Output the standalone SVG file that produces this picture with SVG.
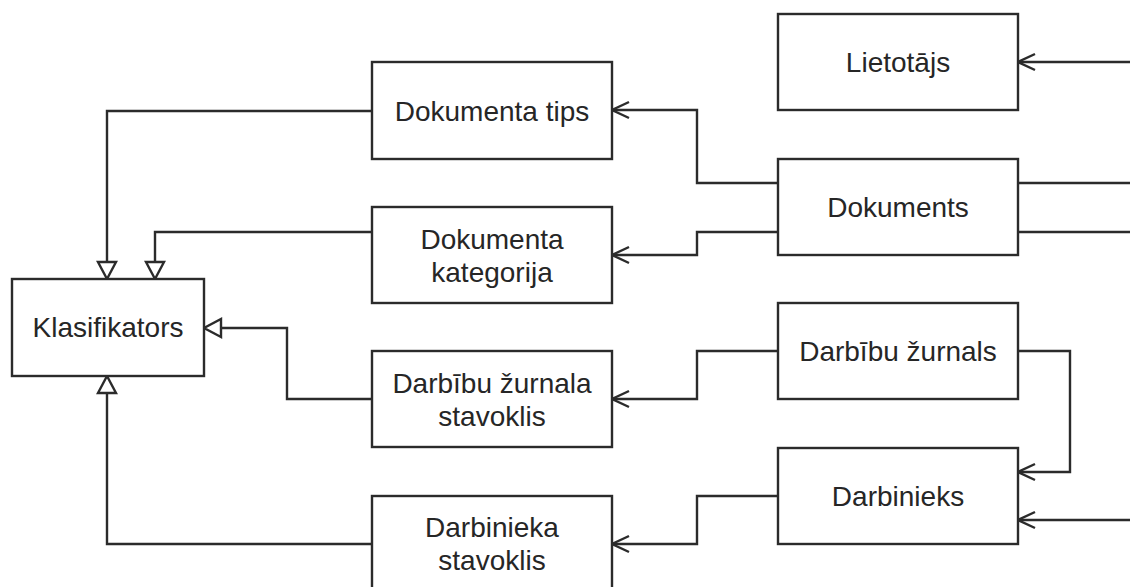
<svg xmlns="http://www.w3.org/2000/svg" width="1130" height="587" viewBox="0 0 1130 587">
<style>
.box{fill:#fff;stroke:#2b2b2b;stroke-width:2.4}
.lbl{font-family:"Liberation Sans",Arial,sans-serif;font-size:28px;fill:#262626;text-anchor:middle}
.c{fill:none;stroke:#2b2b2b;stroke-width:2.4}
</style>
<defs>
<marker id="open" viewBox="-20 -11 23 22" refX="0" refY="0" markerWidth="23" markerHeight="22" markerUnits="userSpaceOnUse" orient="auto">
<path d="M -17 -8 L 0 0 L -17 8" fill="none" stroke="#2b2b2b" stroke-width="2.4"/>
</marker>
<marker id="tri" viewBox="-20 -11 23 22" refX="0" refY="0" markerWidth="23" markerHeight="22" markerUnits="userSpaceOnUse" orient="auto">
<path d="M -17 -9 L 0 0 L -17 9 Z" fill="#fff" stroke="#2b2b2b" stroke-width="2.4"/>
</marker>
</defs>
<rect width="1130" height="587" fill="#fff"/>
<g id="connectors">
<path class="c" d="M778 183 H697 V110 H612" marker-end="url(#open)"/>
<path class="c" d="M778 232 H697 V255 H612" marker-end="url(#open)"/>
<path class="c" d="M778 351 H697 V399 H612" marker-end="url(#open)"/>
<path class="c" d="M778 496 H697 V544 H612" marker-end="url(#open)"/>
<path class="c" d="M1132 62 H1018" marker-end="url(#open)"/>
<path class="c" d="M1018 183 H1132"/>
<path class="c" d="M1018 232 H1132"/>
<path class="c" d="M1018 351 H1070 V472 H1018" marker-end="url(#open)"/>
<path class="c" d="M1132 520 H1018" marker-end="url(#open)"/>
<path class="c" d="M372 111 H107 V279" marker-end="url(#tri)"/>
<path class="c" d="M372 232 H155 V279" marker-end="url(#tri)"/>
<path class="c" d="M372 399 H287 V328 H204" marker-end="url(#tri)"/>
<path class="c" d="M372 544 H107 V376" marker-end="url(#tri)"/>
</g>
<g id="lietotajs"><rect class="box" x="778" y="14" width="240" height="96"/><text class="lbl" x="898" y="72">Lietotājs</text></g>
<g id="dokuments"><rect class="box" x="778" y="159" width="240" height="96"/><text class="lbl" x="898" y="217">Dokuments</text></g>
<g id="darbibu-zurnals"><rect class="box" x="778" y="303" width="240" height="96"/><text class="lbl" x="898" y="361">Darbību žurnals</text></g>
<g id="darbinieks"><rect class="box" x="778" y="448" width="240" height="96"/><text class="lbl" x="898" y="506">Darbinieks</text></g>
<g id="dokumenta-tips"><rect class="box" x="372" y="62" width="240" height="97"/><text class="lbl" x="492" y="121">Dokumenta tips</text></g>
<g id="dokumenta-kategorija"><rect class="box" x="372" y="207" width="240" height="96"/><text class="lbl" x="492" y="249">Dokumenta</text><text class="lbl" x="492" y="282">kategorija</text></g>
<g id="darbibu-zurnala-stavoklis"><rect class="box" x="372" y="351" width="240" height="96"/><text class="lbl" x="492" y="393">Darbību žurnala</text><text class="lbl" x="492" y="426">stavoklis</text></g>
<g id="darbinieka-stavoklis"><rect class="box" x="372" y="496" width="240" height="96"/><text class="lbl" x="492" y="537">Darbinieka</text><text class="lbl" x="492" y="570">stavoklis</text></g>
<g id="klasifikators"><rect class="box" x="12" y="279" width="192" height="97"/><text class="lbl" x="108" y="337">Klasifikators</text></g>
</svg>
